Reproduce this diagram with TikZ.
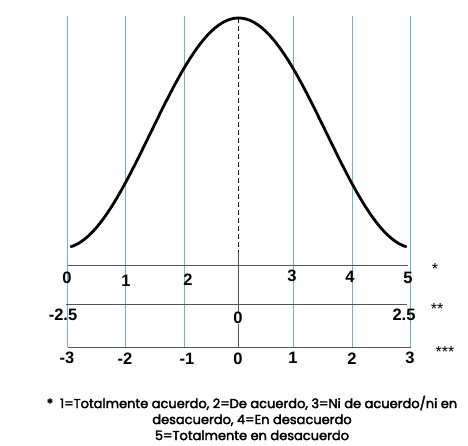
\documentclass[tikz,border=0pt]{standalone}
\usepackage{fontspec}
\setmainfont{Liberation Sans}
\newfontfamily\notefont{Poppins}[FakeBold=2.5]
\usetikzlibrary{positioning}
\definecolor{cGrid}{HTML}{6BB8C4}
\definecolor{cAxis}{HTML}{555555}
\tikzset{
  vline/.style = {draw=cGrid, line width=0.9pt},
  hline/.style = {draw=cAxis, line width=0.9pt},
  num/.style   = {font=\bfseries\fontsize{16.5}{16.5}\selectfont, inner sep=1pt},
  mark0/.style = {num, fill=white, inner sep=0.5pt},
  stars/.style = {font=\fontsize{16}{16}\selectfont, inner sep=1pt},
  bell/.style  = {line width=2.8pt},
  note/.style  = {font=\notefont\fontsize{13}{16}\selectfont, align=center, inner sep=0pt},
}

\begin{document}
\begin{tikzpicture}[x=1pt, y=-1pt]
  \useasboundingbox (0,0) rectangle (468,445);

  % vertical guides
  \foreach \x in {67.5,125.5,184.5,293,352,410.5}
    \draw[vline] (\x,16) -- (\x,347);

  % centre line
  \draw[cAxis, line width=0.9pt] (238,252) -- (238,347);
  \draw[dashed, line width=1pt, dash pattern=on 5pt off 3pt] (238,18) -- (238,252);

  % bell curve
  \draw[bell] plot[domain=-3.06:3.06, samples=120, smooth]
    ({238.5+55*\x}, {248-230*(1+cos(\x*180/3.2))/2});

  % scales
  \draw[hline] (67.5,265) -- (408,265);
  \draw[hline] (66,304) -- (407,304);
  \draw[hline] (67.5,347) -- (410.5,347);

  % first scale *
  \node[num] (s0) at (67,278) {0};
  \node[num] (s1) at (126,281) {1};
  \node[num] (s2) at (188,280) {2};
  \node[num] (s3) at (292,276) {3};
  \node[num] (s4) at (350,277) {4};
  \node[num] (s5) at (408,278) {5};

  % second scale **
  \node[num] (t0) at (63,315) {-2.5};
  \node[mark0] (t1) at (238,318) {0};
  \node[num] (t2) at (404,315) {2.5};

  % third scale ***
  \node[num] (u0) at (67,358) {-3};
  \node[num] (u1) at (125,359) {-2};
  \node[num] (u2) at (187,359) {-1};
  \node[mark0] (u3) at (238,359) {0};
  \node[num] (u4) at (293,358) {1};
  \node[num] (u5) at (352,359) {2};
  \node[num] (u6) at (410,358) {3};

  \node[stars] (k1) at (435,269) {*};
  \node[stars] (k2) at (437,309) {**};
  \node[stars] (k3) at (445,352) {***};

  % legend
  \node[note] (leg) at (252,418) {*\ \ 1=Totalmente acuerdo, 2=De acuerdo, 3=Ni de acuerdo/ni en\\
    desacuerdo, 4=En desacuerdo\\5=Totalmente en desacuerdo};
\end{tikzpicture}
\end{document}
